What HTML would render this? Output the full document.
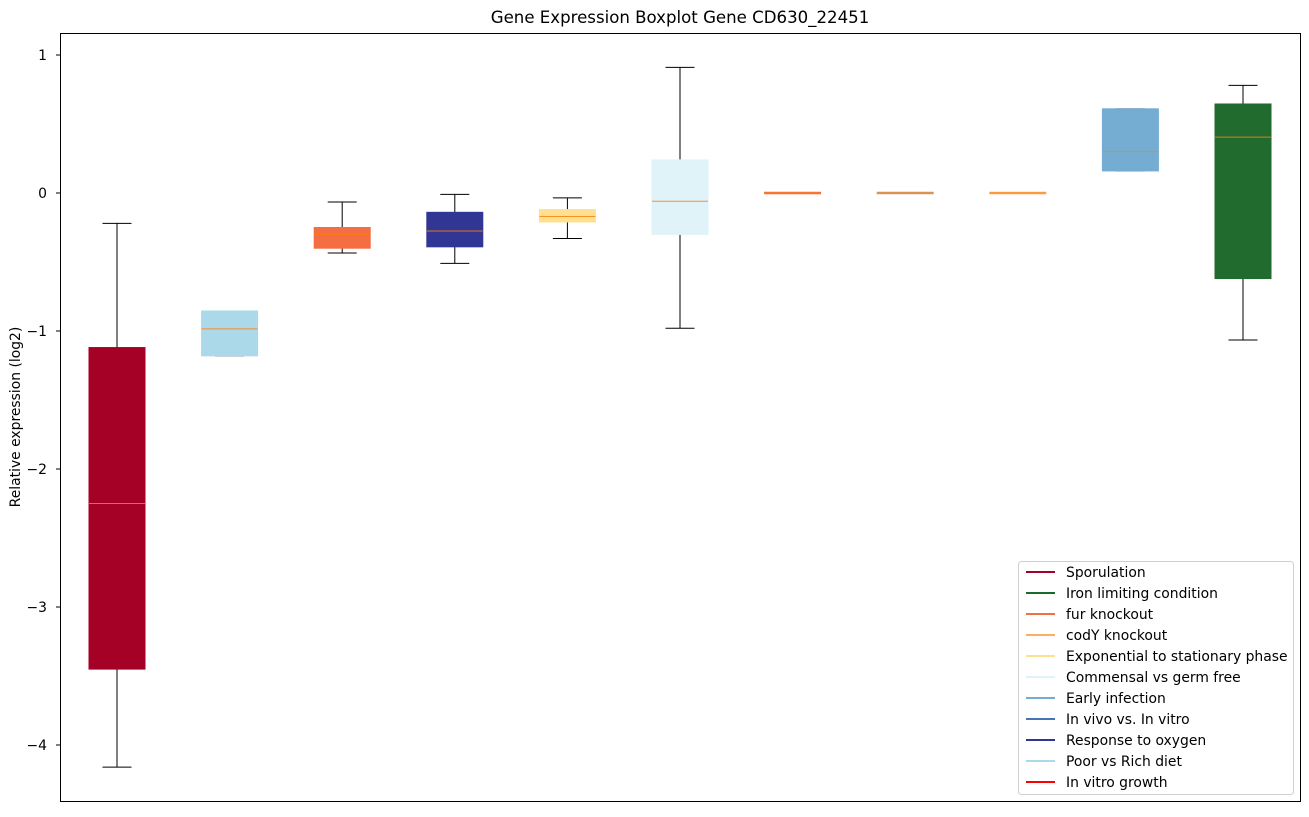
<!DOCTYPE html>
<html><head><meta charset="utf-8"><style>
body{margin:0;background:#fff;font-family:"Liberation Sans","DejaVu Sans",sans-serif}
</style></head><body>
<svg id="chart" width="1309" height="812" xmlns="http://www.w3.org/2000/svg" font-family="DejaVu Sans, Liberation Sans, sans-serif">
<text x="680" y="23" text-anchor="middle" font-size="16.6">Gene Expression Boxplot Gene CD630_22451</text>
<text transform="translate(20,417) rotate(-90)" text-anchor="middle" font-size="13.9">Relative expression (log2)</text>
<g id="plot"></g>
<rect x="60.5" y="33.5" width="1240" height="768" fill="none" stroke="#000" stroke-width="1"/>
<g id="legend"></g>
</svg>
<script>
const categories=["Sporulation","Poor vs Rich diet","fur knockout","Response to oxygen","Exponential to stationary phase","Commensal vs germ free","In vitro growth","In vivo vs. In vitro","codY knockout","Early infection","Iron limiting condition"];
const whiskLow=[-4.16,-1.18,-0.435,-0.51,-0.33,-0.98,0,0,0,0.16,-1.065];
const q1s=[-3.45,-1.18,-0.40,-0.39,-0.21,-0.30,0,0,0,0.16,-0.62];
const medians=[-2.25,-0.985,-0.30,-0.275,-0.17,-0.06,0,0,0,0.30,0.405];
const q3s=[-1.12,-0.855,-0.25,-0.14,-0.12,0.24,0,0,0,0.61,0.645];
const whiskHigh=[-0.22,-0.855,-0.065,-0.01,-0.035,0.91,0,0,0,0.61,0.78];
const boxColors=["#a50026","#abd9e9","#f46d43","#313695","#fee090","#e0f3f8","#f46d43","#c0a080","#fdae61","#74add1","#216b2e"];
const yTicks=[1,0,-1,-2,-3,-4];
const legendLabels=["Sporulation","Iron limiting condition","fur knockout","codY knockout","Exponential to stationary phase","Commensal vs germ free","Early infection","In vivo vs. In vitro","Response to oxygen","Poor vs Rich diet","In vitro growth"];
const legendColors=["#a50026","#1a6b2a","#f46d43","#fdae61","#fee090","#e0f3f8","#74add1","#4575b4","#313695","#abd9e9","#ff0000"];

const NS="http://www.w3.org/2000/svg";
const y=v=>193-138*v;
const x=i=>117+112.6*i;
const plot=document.getElementById('plot');
function mk(tag,attrs,parent){const e=document.createElementNS(NS,tag);for(const k in attrs)e.setAttribute(k,attrs[k]);parent.appendChild(e);return e;}
yTicks.forEach(t=>{
  const tk=mk('line',{x1:56,x2:60,y1:y(t),y2:y(t),stroke:'#000'},plot);
  
  
  const lb=mk('text',{x:47,y:y(t)+5,'text-anchor':'end','font-size':13.9},plot);
  lb.textContent=t<0?'\u2212'+(-t):String(t);
  
  
});
categories.forEach((c,i)=>{
  const g=mk('g',{},plot);
  
  
  const cx=x(i),hw=28,cw=14.5;
  mk('line',{x1:cx,x2:cx,y1:y(whiskHigh[i]),y2:y(q3s[i]),stroke:'#000'},g);
  mk('line',{x1:cx,x2:cx,y1:y(q1s[i]),y2:y(whiskLow[i]),stroke:'#000'},g);
  mk('line',{x1:cx-cw,x2:cx+cw,y1:y(whiskHigh[i]),y2:y(whiskHigh[i]),stroke:'#000'},g);
  mk('line',{x1:cx-cw,x2:cx+cw,y1:y(whiskLow[i]),y2:y(whiskLow[i]),stroke:'#000'},g);
  const h=Math.max(y(q1s[i])-y(q3s[i]),1.5);
  mk('rect',{x:cx-hw,y:y(q3s[i])-(h===1.5?0.75:0),width:2*hw,height:h,fill:boxColors[i],stroke:boxColors[i],'stroke-width':1},g);
  mk('line',{x1:cx-hw,x2:cx+hw,y1:y(medians[i]),y2:y(medians[i]),stroke:'#ff7f0e','stroke-opacity':0.85,'stroke-width':1},g);
});
const lg=document.getElementById('legend');
mk('rect',{x:1018.5,y:561.5,width:275,height:233,rx:3,fill:'#fff',stroke:'#d0d0d0'},lg);
legendLabels.forEach((l,i)=>{
  const yy=572+21*i;
  const e=mk('g',{},lg);
  
  
  mk('line',{x1:1026,x2:1055,y1:yy,y2:yy,stroke:legendColors[i],'stroke-width':2},e);
  const t=mk('text',{x:1066,y:yy+5,'font-size':13.9},e);
  t.textContent=l;
});
</script>
</body></html>
